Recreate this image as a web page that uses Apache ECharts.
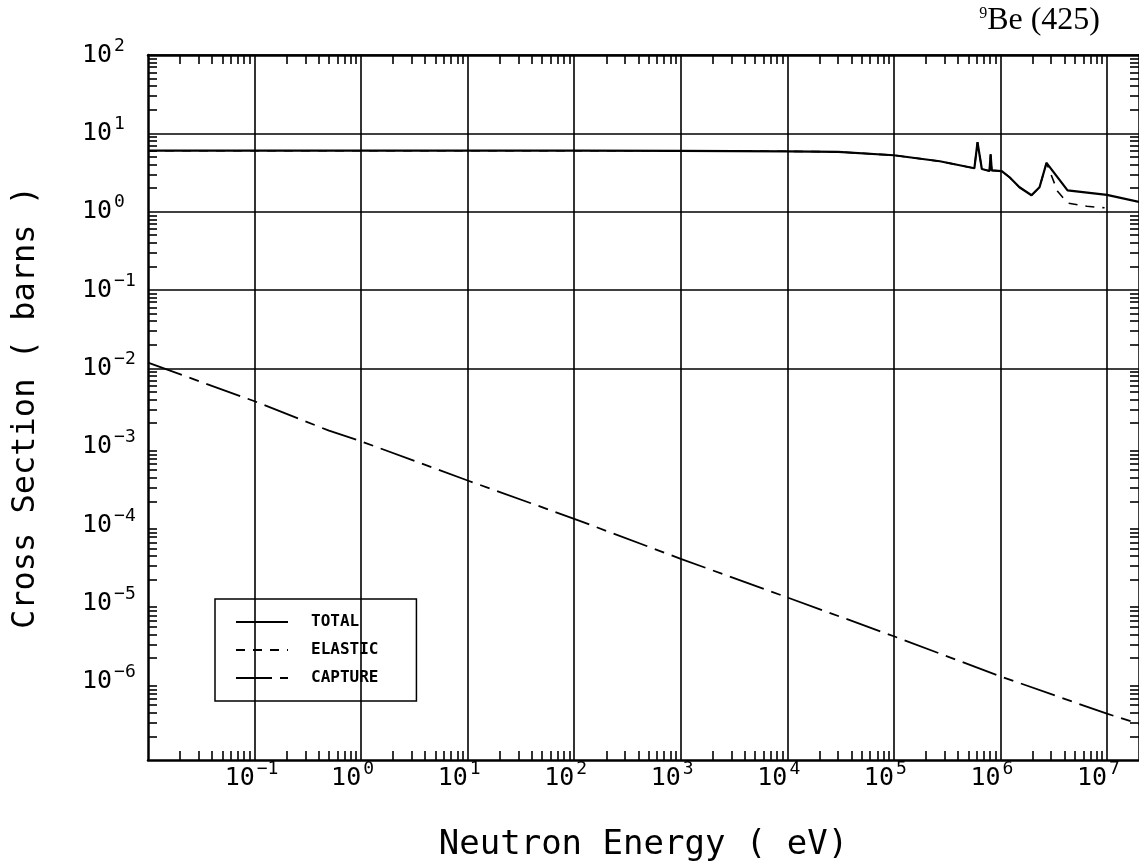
<!DOCTYPE html>
<html lang="en">
<head>
<meta charset="UTF-8">
<title>9Be (425)</title>
<script src="https://cdn.jsdelivr.net/npm/echarts@6/dist/echarts.min.js"></script>
<style>
  html, body { margin: 0; padding: 0; background: #fff; }
  #chart { width: 1139px; height: 867px; }
</style>
</head>
<body>
<div id="chart"></div>
<script>
// neutron energy in eV, cross sections in barns
var totalEnergy = [0.01, 1, 100, 1e3, 1e4, 3e4, 1e5, 2.7e5, 5.7e5, 6.1e5, 6.7e5, 7.9e5, 8.1e5, 8.3e5,
                   1.03e6, 1.22e6, 1.51e6, 1.96e6, 2.33e6, 2.71e6, 4.27e6, 1e7, 2e7];
var totalXs = [6.0, 6.0, 6.0, 5.98, 5.9, 5.8, 5.25, 4.4, 3.58, 7.7, 3.5, 3.3, 5.4, 3.37,
               3.3, 2.75, 2.05, 1.62, 2.05, 4.2, 1.87, 1.64, 1.33];

// elastic lies on top of total until the 2.7 MeV resonance
var elasticEnergy = [0.01, 1, 100, 1e3, 1e4, 3e4, 1e5, 2.7e5, 5.7e5, 6.1e5, 6.7e5, 7.9e5, 8.1e5, 8.3e5,
                     1.03e6, 1.22e6, 1.51e6, 1.96e6, 2.33e6, 2.71e6, 3.44e6, 4.27e6, 6.5e6, 9.5e6];
var elasticXs = [6.0, 6.0, 6.0, 5.98, 5.9, 5.8, 5.25, 4.4, 3.58, 7.7, 3.5, 3.3, 5.4, 3.37,
                 3.3, 2.75, 2.05, 1.62, 2.05, 4.2, 1.82, 1.29, 1.17, 1.12];

var captureEnergy = [0.01, 0.1, 0.5, 1, 10, 100, 1e3, 1e4, 1e5, 1e6, 1e7, 2e7];
var captureXs = [0.0118, 3.8e-3, 1.6e-3, 1.17e-3, 3.7e-4, 1.2e-4, 3.7e-5, 1.19e-5, 3.8e-6, 1.17e-6, 3.9e-7, 2.9e-7];

// decade labels (exponents of 10)
var xLabelExp = [-1, 0, 1, 2, 3, 4, 5, 6, 7];
var yLabelExp = [-6, -5, -4, -3, -2, -1, 0, 1, 2];
var xRange = [1e-2, 2e7];
var yRange = [1e-7, 1e2];

function pairs(xs, ys) {
  return xs.map(function (x, i) { return [x, ys[i]]; });
}
function decades(exps) {
  return exps.map(function (e) { return Math.pow(10, e); });
}
// 2..9 x 10^n inside the range
function minorTicks(range) {
  var out = [];
  for (var e = Math.floor(Math.log10(range[0])); e <= Math.ceil(Math.log10(range[1])); e++) {
    for (var k = 2; k <= 9; k++) {
      var v = k * Math.pow(10, e);
      if (v > range[0] && v < range[1]) out.push(v);
    }
  }
  return out;
}
function expText(v) {
  return String(Math.round(Math.log10(v))).replace('-', '\u2212');
}
function yLabel(v) {
  return '{b|10}{s|' + expText(v) + '}';
}
// trailing blank keeps the "10" right against the grid line
function xLabel(v) {
  var t = expText(v);
  return '{b|10}{s|' + t + '}{h' + t.length + '| }';
}

var mono = 'DejaVu Sans Mono';
var labelRich = {
  b: { fontFamily: mono, fontSize: 25, lineHeight: 26, color: '#000' },
  s: { fontFamily: mono, fontSize: 18, lineHeight: 18, padding: [0, 0, 18, 2], color: '#000' },
  h1: { fontFamily: mono, fontSize: 18, width: 17 },
  h2: { fontFamily: mono, fontSize: 18, width: 6 }
};

function tickAxis(extra) {
  var base = {
    type: 'log', logBase: 10,
    axisLine: { show: true, lineStyle: { color: '#000', width: 2.5 } },
    axisTick: { show: true, inside: true, length: 9, lineStyle: { color: '#000', width: 1.6 } },
    axisLabel: { show: false },
    splitLine: { show: false }
  };
  return Object.assign(base, extra);
}

var xMinor = minorTicks(xRange);
var yMinor = minorTicks(yRange);

var gridLines = decades(xLabelExp).map(function (v) { return { xAxis: v }; })
  .concat(decades(yLabelExp).map(function (v) { return { yAxis: v }; }));

var myChart = echarts.init(document.getElementById('chart'));
myChart.setOption({
  animation: false,
  backgroundColor: '#fff',
  title: {
    text: '{s|9}{t|Be (425)}',
    right: 39, top: 5, padding: 0,
    textStyle: {
      rich: {
        t: { fontFamily: 'Liberation Serif', fontSize: 32, fontWeight: 'normal', lineHeight: 32, color: '#000' },
        s: { fontFamily: 'Liberation Serif', fontSize: 16, fontWeight: 'normal', lineHeight: 16, padding: [0, 0, 14, 0], color: '#000' }
      }
    }
  },
  grid: { left: 148, right: 0, top: 55, bottom: 106 },
  legend: {
    orient: 'vertical',
    left: 215, top: 599,
    padding: [15, 38, 15, 20],
    itemWidth: 52, itemHeight: 14, itemGap: 12,
    backgroundColor: '#fff',
    borderColor: '#000', borderWidth: 1.5,
    selectedMode: false,
    itemStyle: { opacity: 0, color: 'transparent', borderWidth: 0 },
    textStyle: { fontFamily: mono, fontSize: 16, fontWeight: 'bold', color: '#000', padding: [0, 0, 0, 18] },
    data: ['TOTAL', 'ELASTIC', 'CAPTURE']
  },
  xAxis: [
    tickAxis({
      position: 'bottom', min: xRange[0], max: xRange[1],
      name: 'Neutron Energy ( eV)', nameLocation: 'middle', nameGap: 68,
      nameTextStyle: { fontFamily: mono, fontSize: 34, color: '#000' },
      axisTick: { show: true, inside: true, length: 9, customValues: xMinor, lineStyle: { color: '#000', width: 1.6 } },
      axisLabel: { show: true, margin: 5, customValues: decades(xLabelExp), formatter: xLabel, rich: labelRich }
    }),
    tickAxis({
      position: 'top', min: xRange[0], max: xRange[1],
      axisTick: { show: true, inside: true, length: 9, customValues: xMinor, lineStyle: { color: '#000', width: 1.6 } }
    })
  ],
  yAxis: [
    tickAxis({
      position: 'left', min: yRange[0], max: yRange[1],
      name: 'Cross Section ( barns )', nameLocation: 'middle', nameGap: 106,
      nameTextStyle: { fontFamily: mono, fontSize: 32, color: '#000' },
      axisTick: { show: true, inside: true, length: 9, customValues: yMinor, lineStyle: { color: '#000', width: 1.6 } },
      axisLabel: { show: true, margin: 66, align: 'left', customValues: decades(yLabelExp), formatter: yLabel, rich: labelRich }
    }),
    tickAxis({
      position: 'right', min: yRange[0], max: yRange[1],
      axisTick: { show: true, inside: true, length: 9, customValues: yMinor, lineStyle: { color: '#000', width: 1.6 } }
    })
  ],
  series: [
    {
      name: 'TOTAL', type: 'line', symbol: 'none', silent: true,
      data: pairs(totalEnergy, totalXs),
      lineStyle: { color: '#000', width: 2.2 },
      itemStyle: { color: '#000' }
    },
    {
      name: 'ELASTIC', type: 'line', symbol: 'none', silent: true,
      data: pairs(elasticEnergy, elasticXs),
      lineStyle: { color: '#000', width: 1.6, type: [9, 8] },
      itemStyle: { color: '#000' }
    },
    {
      name: 'CAPTURE', type: 'line', symbol: 'none', silent: true,
      data: pairs(captureEnergy, captureXs),
      lineStyle: { color: '#000', width: 1.8, type: [36, 8, 10, 8] },
      itemStyle: { color: '#000' },
      markLine: {
        silent: true, animation: false,
        symbol: ['none', 'none'],
        label: { show: false },
        lineStyle: { color: '#000', width: 1.6, type: 'solid' },
        data: gridLines
      }
    }
  ]
});
</script>
</body>
</html>
